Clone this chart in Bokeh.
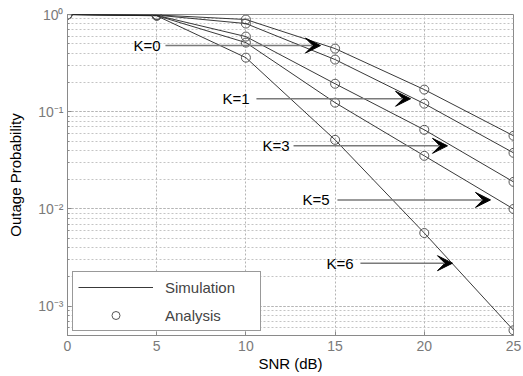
from bokeh.plotting import figure
from bokeh.models import (Range1d, Arrow, VeeHead, Label, Legend, LegendItem,
                          CustomJSTickFormatter, SingleIntervalTicker, LogTicker)
from bokeh.embed import file_html
from bokeh.resources import INLINE

# ---- data ----
snr = [0, 5, 10, 15, 20, 25]
pout_k0 = [1.0, 0.99, 0.888, 0.446, 0.169, 0.0566]
pout_k1 = [1.0, 0.985, 0.807, 0.344, 0.121, 0.0378]
pout_k3 = [1.0, 0.98, 0.593, 0.194, 0.0652, 0.0190]
pout_k5 = [1.0, 0.975, 0.514, 0.124, 0.0352, 0.0100]
pout_k6 = [1.0, 0.97, 0.360, 0.0514, 0.00566, 0.000566]
series = [pout_k0, pout_k1, pout_k3, pout_k5, pout_k6]

# curve annotations: label, label x, arrow start x, arrow tip x, y
ann_labels = ["K=0", "K=1", "K=3", "K=5", "K=6"]
ann_text_x = [3.70, 8.69, 10.93, 13.17, 14.52]
ann_start_x = [5.49, 10.59, 12.67, 15.13, 16.42]
ann_tip_x = [14.18, 19.23, 21.30, 23.71, 21.58]
ann_y = [0.479, 0.136, 0.0446, 0.0124, 0.00277]

legend_labels = ["Simulation", "Analysis"]

FONT = "Liberation Sans"
GRAY = "#8a8a8a"

p = figure(width=523, height=376, output_backend="svg", toolbar_location=None,
           y_axis_type="log", x_range=Range1d(0, 25), y_range=Range1d(5e-4, 1),
           min_border_left=67, min_border_right=10, min_border_top=14,
           min_border_bottom=41)

p.outline_line_color = GRAY
p.outline_line_width = 1

# axes
p.xaxis.ticker = SingleIntervalTicker(interval=5, num_minor_ticks=0)
p.yaxis.ticker = LogTicker(num_minor_ticks=10)
p.yaxis.formatter = CustomJSTickFormatter(code="""
const e = Math.round(Math.log10(tick));
const m = {'-':'\u207B','0':'\u2070','1':'\u00B9','2':'\u00B2','3':'\u00B3','4':'\u2074','5':'\u2075','6':'\u2076','7':'\u2077','8':'\u2078','9':'\u2079'};
return '10' + String(e).split('').map(c => m[c]).join('');
""")
for ax in (p.xaxis, p.yaxis):
    ax.axis_line_color = GRAY
    ax.major_tick_line_color = GRAY
    ax.minor_tick_line_color = GRAY
    ax.major_tick_in = 4
    ax.major_tick_out = 0
    ax.minor_tick_in = 2
    ax.minor_tick_out = 0
    ax.major_label_text_color = "#7a7a7a"
    ax.major_label_text_font = FONT
    ax.major_label_text_font_size = "14px"
    ax.axis_label_text_font = FONT
    ax.axis_label_text_font_size = "15px"
    ax.axis_label_text_font_style = "normal"
    ax.axis_label_text_color = "black"
p.xaxis.axis_label = "SNR (dB)"
p.yaxis.axis_label = "Outage Probability"
p.xaxis.major_label_standoff = 5
p.xaxis.axis_label_standoff = 1
p.yaxis.major_label_standoff = 4
p.yaxis.axis_label_standoff = 11

# grid
for g in (p.xgrid, p.ygrid):
    g.grid_line_color = "#b4b4b4"
    g.grid_line_dash = "2 2"
    g.grid_line_width = 1
p.ygrid.minor_grid_line_color = "#c4c4c4"
p.ygrid.minor_grid_line_dash = "2 2"

# curves
line_rs, circ_rs = [], []
for ys in series:
    lr = p.line(snr, ys, line_color="#222222", line_width=0.9)
    cr = p.scatter(snr, ys, marker="circle", size=9, fill_color=None,
                   line_color="#555555", line_width=1)
    line_rs.append(lr)
    circ_rs.append(cr)

# annotations
for lab, tx, sx, ex, y in zip(ann_labels, ann_text_x, ann_start_x, ann_tip_x, ann_y):
    p.add_layout(Label(x=tx, y=y, text=lab, text_font=FONT, text_font_size="15px",
                       text_baseline="middle", text_align="left", text_color="black"))
    p.add_layout(Arrow(x_start=sx, y_start=y, x_end=ex, y_end=y,
                       line_color="#7a7a7a", line_width=1.5,
                       end=VeeHead(size=15, fill_color="black", line_color="black")))

legend = Legend(items=[LegendItem(label=legend_labels[0], renderers=[line_rs[0]]),
                       LegendItem(label=legend_labels[1], renderers=[circ_rs[0]])],
                location=(5, 4), glyph_width=75, glyph_height=20, label_width=90,
                label_standoff=12, padding=5, spacing=8, margin=0,
                border_line_color="#333333", border_line_width=1,
                background_fill_color="white", background_fill_alpha=1,
                label_text_font=FONT, label_text_font_size="15px")
p.add_layout(legend)

open("out.html", "w").write(file_html(p, INLINE))
